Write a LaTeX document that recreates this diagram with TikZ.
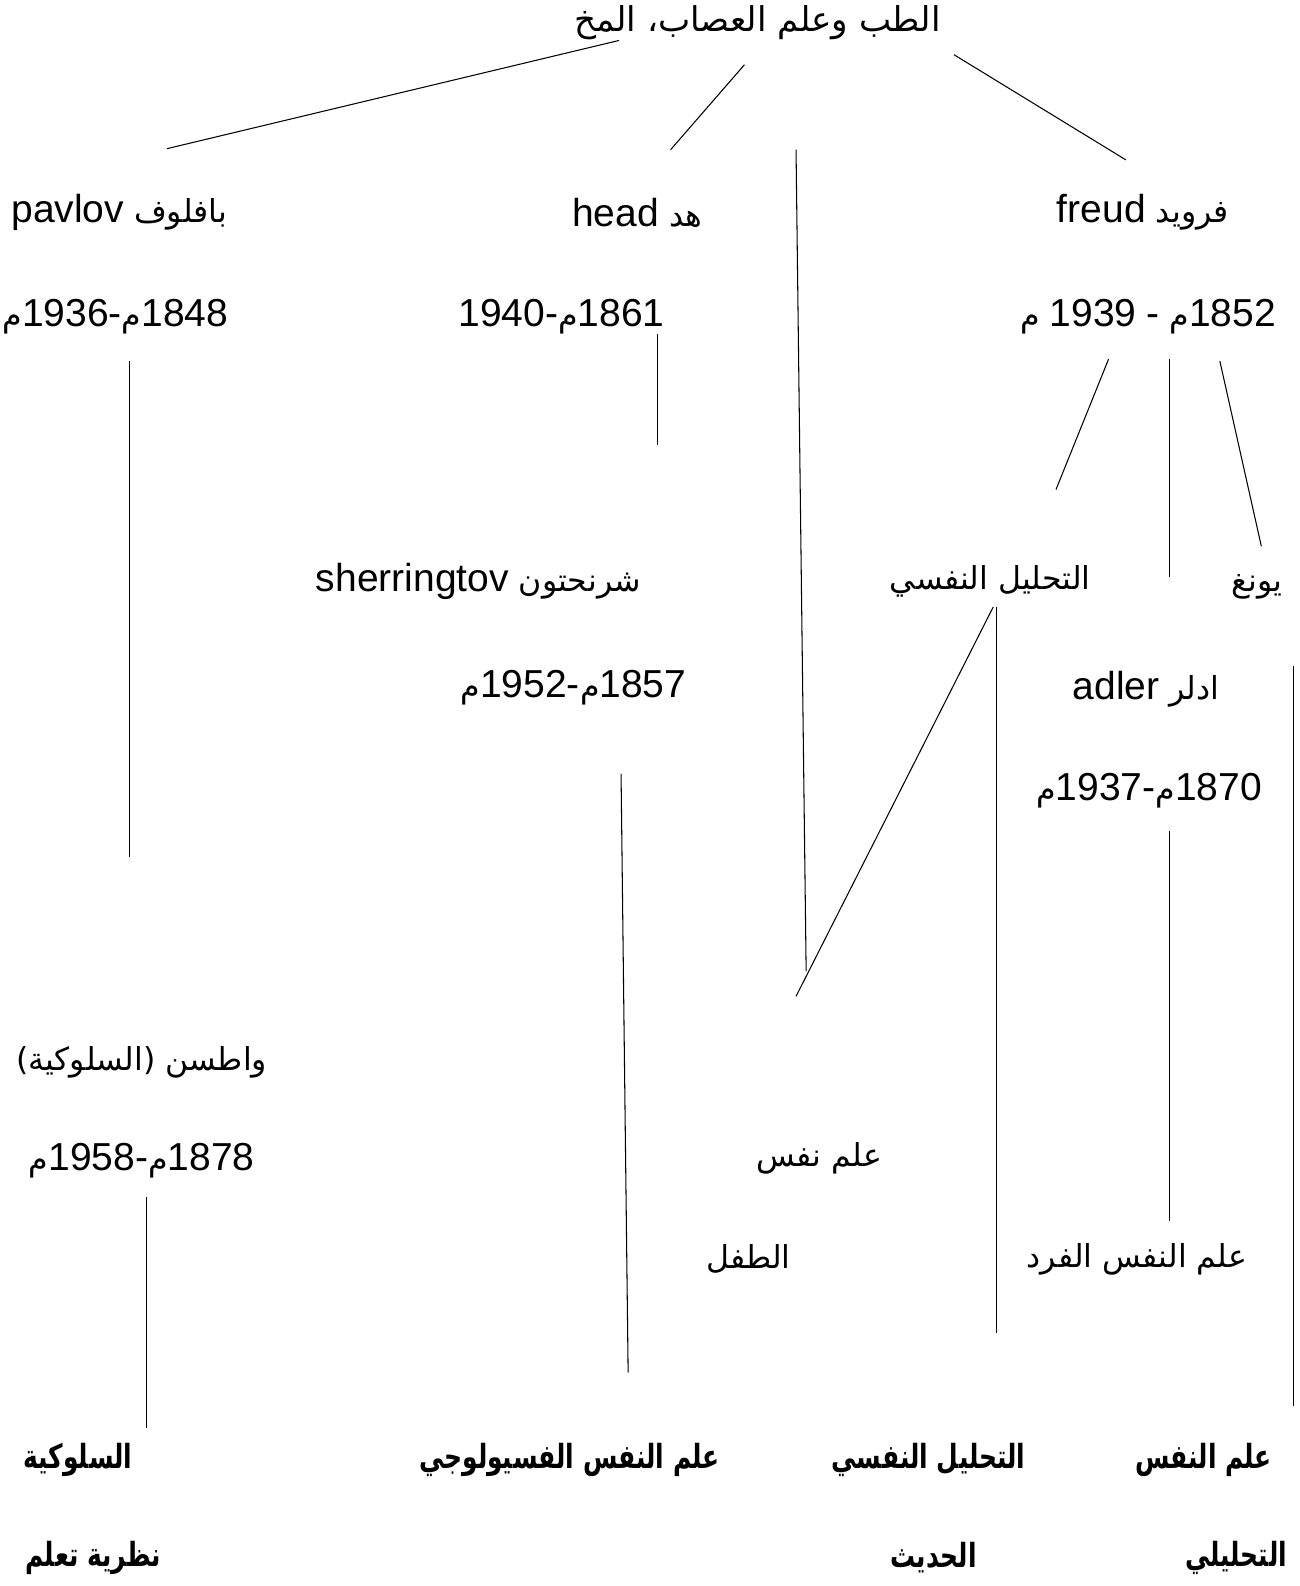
\documentclass[tikz,border=0pt]{standalone}
\usepackage{fontspec}
\setmainfont{Liberation Sans}
\newfontfamily\arabicfont[Script=Arabic,Scale=0.81]{DejaVu Sans}
\newfontfamily\arabicbold[Script=Arabic,Scale=0.86,FakeStretch=0.75]{DejaVu Sans Bold}
\newfontfamily\latinfont{Liberation Sans}
\TeXXeTstate=1
\newcommand*{\ar}[1]{{\arabicfont\beginR #1\endR}}
\newcommand*{\arb}[1]{{\arabicbold\beginR #1\endR}}
\newcommand*{\lt}[1]{\beginL{\latinfont #1}\endL}

\begin{document}
\begin{tikzpicture}
[
	x=0.020234cm, y=-0.020234cm,
	lbl/.style={inner sep=0pt, font=\fontsize{22.2}{26}\selectfont},
	toplbl/.style={inner sep=0pt, font=\fontsize{24}{28}\selectfont},
	blbl/.style={inner sep=0pt, font=\fontsize{22}{26}\selectfont},
	link/.style={line width=0.6pt}
]

	\useasboundingbox (0,0) rectangle (1285,1568);

	% top
	\node[toplbl] (title) at (749,22) {\ar{الطب وعلم العصاب، المخ}};

	% first row
	\node[lbl] (pavlov) at (118,210) {\ar{بافلوف \lt{pavlov}}};
	\node[lbl] (pavlovdate) at (114,313) {\ar{\lt{1848}م\lt{-}\lt{1936}م}};
	\node[lbl] (head) at (630,210) {\ar{هد \lt{head}}};
	\node[lbl] (headdate) at (555,313) {\ar{\lt{1861}م\lt{-}\lt{1940}}};
	\node[lbl] (freud) at (1130,210) {\ar{فرويد \lt{freud}}};
	\node[lbl] (freuddate) at (1135,313) {\ar{\lt{1852}م \lt{-} \lt{1939} م}};

	% second row
	\node[lbl] (sherr) at (473,575) {\ar{شرنحتون \lt{sherringtov}}};
	\node[lbl] (sherrdate) at (567,680) {\ar{\lt{1857}م\lt{-}\lt{1952}م}};
	\node[lbl] (tahlil) at (979,575) {\ar{التحليل النفسي}};
	\node[lbl] (jung) at (1243,580) {\ar{يونغ}};
	\node[lbl] (adler) at (1133,681) {\ar{ادلر \lt{adler}}};
	\node[lbl] (adlerdate) at (1136,782) {\ar{\lt{1870}م\lt{-}\lt{1937}م}};

	% third row
	\node[lbl] (watson) at (140,1050) {\ar{واطسن (السلوكية)}};
	\node[lbl] (watsondate) at (140,1147) {\ar{\lt{1878}م\lt{-}\lt{1958}م}};
	\node[lbl] (child) at (810,1145) {\ar{علم نفس}};
	\node[lbl] (childb) at (740,1245) {\ar{الطفل}};
	\node[lbl] (fard) at (1124,1245) {\ar{علم النفس الفرد}};

	% bottom
	\node[blbl] (beh) at (77,1443) {\arb{السلوكية}};
	\node[blbl] (learn) at (92,1540) {\arb{نظرية تعلم}};
	\node[blbl] (physio) at (563,1443) {\arb{علم النفس الفسيولوجي}};
	\node[blbl] (modern) at (918,1443) {\arb{التحليل النفسي}};
	\node[blbl] (modernb) at (923,1540) {\arb{الحديث}};
	\node[blbl] (analytic) at (1190,1443) {\arb{علم النفس}};
	\node[blbl] (analyticb) at (1222,1540) {\arb{التحليلي}};

	% line ends
	\coordinate (titleL) at (612,40);
	\coordinate (titleM) at (736,64);
	\coordinate (titleR) at (943,54);
	\coordinate (pavtop) at (165,147);
	\coordinate (headtop) at (663,148);
	\coordinate (freudtop) at (1113,158);
	\coordinate (childtop) at (787,148);
	\coordinate (childbot) at (797,960);
	\coordinate (pavA) at (128,357);
	\coordinate (pavB) at (128,847);
	\coordinate (headA) at (650,330);
	\coordinate (headB) at (650,440);
	\coordinate (fA1) at (1096,355);
	\coordinate (fB1) at (1044,484);
	\coordinate (fA2) at (1156,355);
	\coordinate (fB2) at (1156,570);
	\coordinate (fA3) at (1206,357);
	\coordinate (fB3) at (1247,540);
	\coordinate (tA) at (982,600);
	\coordinate (tB) at (787,985);
	\coordinate (tC) at (985,600);
	\coordinate (tD) at (985,1318);
	\coordinate (jA) at (1279,658);
	\coordinate (jB) at (1279,1390);
	\coordinate (aA) at (1156,822);
	\coordinate (aB) at (1156,1207);
	\coordinate (sA) at (614,765);
	\coordinate (sB) at (621,1357);
	\coordinate (wA) at (145,1183);
	\coordinate (wB) at (145,1412);

	% connectors
	\draw[link] (pavtop) -- (titleL);
	\draw[link] (headtop) -- (titleM);
	\draw[link] (freudtop) -- (titleR);
	\draw[link] (childtop) -- (childbot);
	\draw[link] (pavA) -- (pavB);
	\draw[link] (headA) -- (headB);
	\draw[link] (fA1) -- (fB1);
	\draw[link] (fA2) -- (fB2);
	\draw[link] (fA3) -- (fB3);
	\draw[link] (tA) -- (tB);
	\draw[link] (tC) -- (tD);
	\draw[link] (jA) -- (jB);
	\draw[link] (aA) -- (aB);
	\draw[link] (sA) -- (sB);
	\draw[link] (wA) -- (wB);

\end{tikzpicture}
\end{document}
